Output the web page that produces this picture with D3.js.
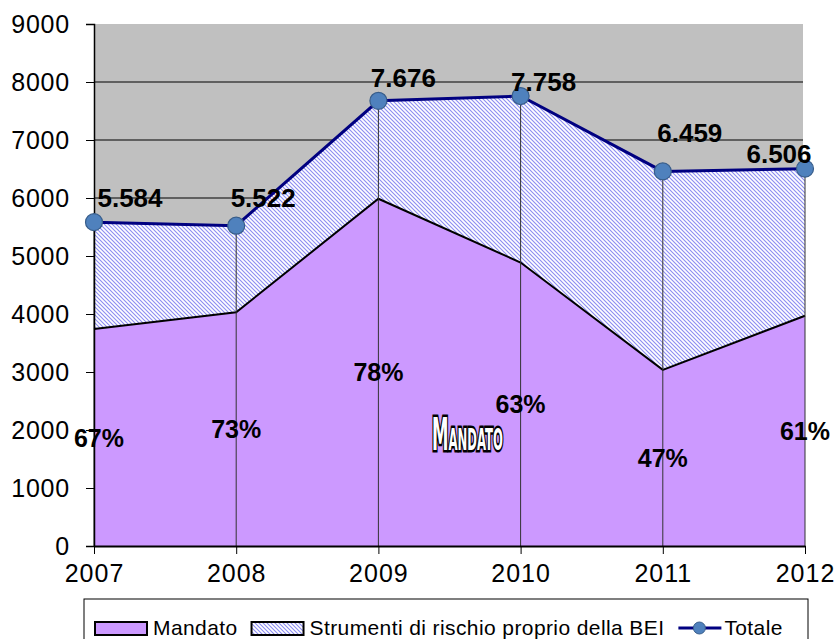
<!DOCTYPE html>
<html>
<head>
<meta charset="utf-8">
<script src="https://cdn.jsdelivr.net/npm/d3@7"></script>
<style>
  html, body { margin: 0; padding: 0; background: #fff; }
  svg { display: block; font-family: "Liberation Sans", Arial, sans-serif; }
</style>
</head>
<body>
<div id="chart"></div>
<script>
(function() {
    // data
    var years = ['2007', '2008', '2009', '2010', '2011', '2012'];
    var totale = [5584, 5522, 7676, 7758, 6459, 6506];
    var mandato = [3741, 4031, 5987, 4888, 3036, 3969];
    var quota = ['67%', '73%', '78%', '63%', '47%', '61%'];
    var totaleLabels = ['5.584', '5.522', '7.676', '7.758', '6.459', '6.506'];
    var yTicks = [0, 1000, 2000, 3000, 4000, 5000, 6000, 7000, 8000, 9000];

    // hand-placed label offsets (layout only)
    var labelDx = [36, 27, 25, 23, 27, -26];
    var labelDy = [-15, -19, -14, -5, -29, -6];

    var width = 835, height = 639;
    var left = 94, right = 805, top = 24, bottom = 546;

    var rows = years.map(function(y, i) {
        return { year: y, mandato: mandato[i], totale: totale[i], i: i };
    });

    var svg = d3.select('#chart').append('svg')
        .attr('width', width)
        .attr('height', height);

    var x = d3.scalePoint().domain(years).range([left, right]);
    var y = d3.scaleLinear().domain([0, 9000]).range([bottom, top]);

    var defs = svg.append('defs');
    var pat = defs.append('pattern')
        .attr('id', 'hatch')
        .attr('patternUnits', 'userSpaceOnUse')
        .attr('width', 4)
        .attr('height', 4);
    pat.append('rect').attr('width', 4).attr('height', 4).attr('fill', '#fff');
    pat.append('path')
        .attr('d', 'M-1,-1 L5,5 M-1,3 L1,5 M3,-1 L5,1')
        .attr('stroke', '#8c8cf2')
        .attr('stroke-width', 1.1);

    // plot background and gridlines
    svg.append('rect')
        .attr('x', left).attr('y', top)
        .attr('width', right - left - 2).attr('height', bottom - top)
        .attr('fill', '#c0c0c0');

    svg.append('g')
        .selectAll('line')
        .data(yTicks.filter(function(d) { return d > 0 && d < 9000; }))
        .join('line')
        .attr('x1', left).attr('x2', right - 2)
        .attr('y1', function(d) { return y(d); })
        .attr('y2', function(d) { return y(d); })
        .attr('stroke', '#000')
        .attr('stroke-width', 1);

    // stacked areas
    var areaTot = d3.area()
        .x(function(d) { return x(d.year); })
        .y0(function(d) { return y(d.mandato); })
        .y1(function(d) { return y(d.totale); });
    var areaMand = d3.area()
        .x(function(d) { return x(d.year); })
        .y0(y(0))
        .y1(function(d) { return y(d.mandato); });

    svg.append('path').datum(rows)
        .attr('d', areaTot)
        .attr('fill', 'url(#hatch)');
    svg.append('path').datum(rows)
        .attr('d', areaMand)
        .attr('fill', '#cc99ff');
    svg.append('path').datum(rows)
        .attr('d', d3.line()
            .x(function(d) { return x(d.year); })
            .y(function(d) { return y(d.mandato); }))
        .attr('fill', 'none')
        .attr('stroke', '#000')
        .attr('stroke-width', 2);

    // drop lines
    svg.append('g')
        .selectAll('line')
        .data(rows)
        .join('line')
        .attr('x1', function(d) { return x(d.year); })
        .attr('x2', function(d) { return x(d.year); })
        .attr('y1', function(d) { return y(d.totale); })
        .attr('y2', bottom)
        .attr('stroke', '#333')
        .attr('stroke-width', 1);

    // axes
    var yAxis = svg.append('g')
        .attr('transform', 'translate(' + left + ',0)')
        .call(d3.axisLeft(y).tickValues(yTicks).tickSize(8).tickPadding(16).tickFormat(d3.format('d')));
    yAxis.select('.domain').attr('stroke', '#000').attr('stroke-width', 1.5);
    yAxis.selectAll('.tick line').attr('stroke', '#000');
    yAxis.selectAll('text')
        .attr('font-size', 25)
        .attr('font-family', '"Liberation Sans", Arial, sans-serif')
        .attr('fill', '#000')
        .attr('letter-spacing', '0.8px');

    var xAxis = svg.append('g')
        .attr('transform', 'translate(0,' + bottom + ')')
        .call(d3.axisBottom(x).tickSize(8).tickPadding(10).tickSizeOuter(0));
    xAxis.select('.domain').attr('stroke', '#000').attr('stroke-width', 2);
    xAxis.selectAll('.tick line').attr('stroke', '#000');
    xAxis.selectAll('text')
        .attr('font-size', 25)
        .attr('font-family', '"Liberation Sans", Arial, sans-serif')
        .attr('fill', '#000')
        .attr('letter-spacing', '1px');

    // totale line + markers
    svg.append('path').datum(rows)
        .attr('d', d3.line()
            .x(function(d) { return x(d.year); })
            .y(function(d) { return y(d.totale); }))
        .attr('fill', 'none')
        .attr('stroke', '#000080')
        .attr('stroke-width', 3);

    svg.append('g')
        .selectAll('circle')
        .data(rows)
        .join('circle')
        .attr('cx', function(d) { return x(d.year); })
        .attr('cy', function(d) { return y(d.totale); })
        .attr('r', 8.5)
        .attr('fill', '#4f81bd')
        .attr('stroke', '#385d8a')
        .attr('stroke-width', 1.2);

    // value labels
    svg.append('g')
        .selectAll('text')
        .data(rows)
        .join('text')
        .attr('x', function(d) { return x(d.year) + labelDx[d.i]; })
        .attr('y', function(d) { return y(d.totale) + labelDy[d.i]; })
        .attr('text-anchor', 'middle')
        .attr('font-size', 26)
        .attr('font-weight', 'bold')
        .attr('fill', '#000')
        .text(function(d) { return totaleLabels[d.i]; });

    // percentage labels in the middle of the mandato area
    svg.append('g')
        .selectAll('text')
        .data(rows)
        .join('text')
        .attr('x', function(d) { return x(d.year) + (d.i === 0 ? 5 : 0); })
        .attr('y', function(d) { return y(d.mandato / 2); })
        .attr('dy', '0.36em')
        .attr('text-anchor', 'middle')
        .attr('font-size', 25)
        .attr('font-weight', 'bold')
        .attr('fill', '#000')
        .text(function(d) { return quota[d.i]; });

    // word-art style series name
    svg.append('text')
        .attr('x', 432)
        .attr('y', 450)
        .attr('font-family', '"DejaVu Sans Condensed", "DejaVu Sans", sans-serif')
        .attr('font-weight', 'bold')
        .attr('font-size', 44)
        .style('font-variant', 'small-caps')
        .attr('fill', '#fff')
        .attr('stroke', '#000')
        .attr('stroke-width', 5)
        .attr('paint-order', 'stroke')
        .attr('textLength', 71)
        .attr('lengthAdjust', 'spacingAndGlyphs')
        .text('Mandato');

    // legend
    var lg = svg.append('g');
    lg.append('rect')
        .attr('x', 84).attr('y', 599)
        .attr('width', 724).attr('height', 60)
        .attr('fill', '#fff')
        .attr('stroke', '#000')
        .attr('stroke-width', 1);

    var legendFont = '"Liberation Sans Narrow", "Arial Narrow", "Liberation Sans", sans-serif';
    var items = [
        { label: 'Mandato', kind: 'mandato' },
        { label: 'Strumenti di rischio proprio della BEI', kind: 'hatch' },
        { label: 'Totale', kind: 'line' }
    ];
    var cx = 95, cyMid = 628;
    items.forEach(function(it) {
        if (it.kind === 'line') {
            lg.append('line')
                .attr('x1', cx).attr('x2', cx + 43)
                .attr('y1', cyMid).attr('y2', cyMid)
                .attr('stroke', '#000080').attr('stroke-width', 3);
            lg.append('circle')
                .attr('cx', cx + 21).attr('cy', cyMid).attr('r', 6)
                .attr('fill', '#4f81bd').attr('stroke', '#385d8a');
            cx += 46;
        } else {
            lg.append('rect')
                .attr('x', cx).attr('y', cyMid - 6)
                .attr('width', 52).attr('height', 13)
                .attr('fill', it.kind === 'mandato' ? '#cc99ff' : 'url(#hatch)')
                .attr('stroke', '#000')
                .attr('stroke-width', 2);
            cx += 58;
        }
        var t = lg.append('text')
            .attr('x', cx)
            .attr('y', cyMid + 7)
            .attr('font-family', legendFont)
            .attr('font-size', 21)
            .attr('letter-spacing', '0.4px')
            .attr('fill', '#000')
            .text(it.label);
        cx += t.node().getComputedTextLength() + 14;
    });
})();
</script>
</body>
</html>
